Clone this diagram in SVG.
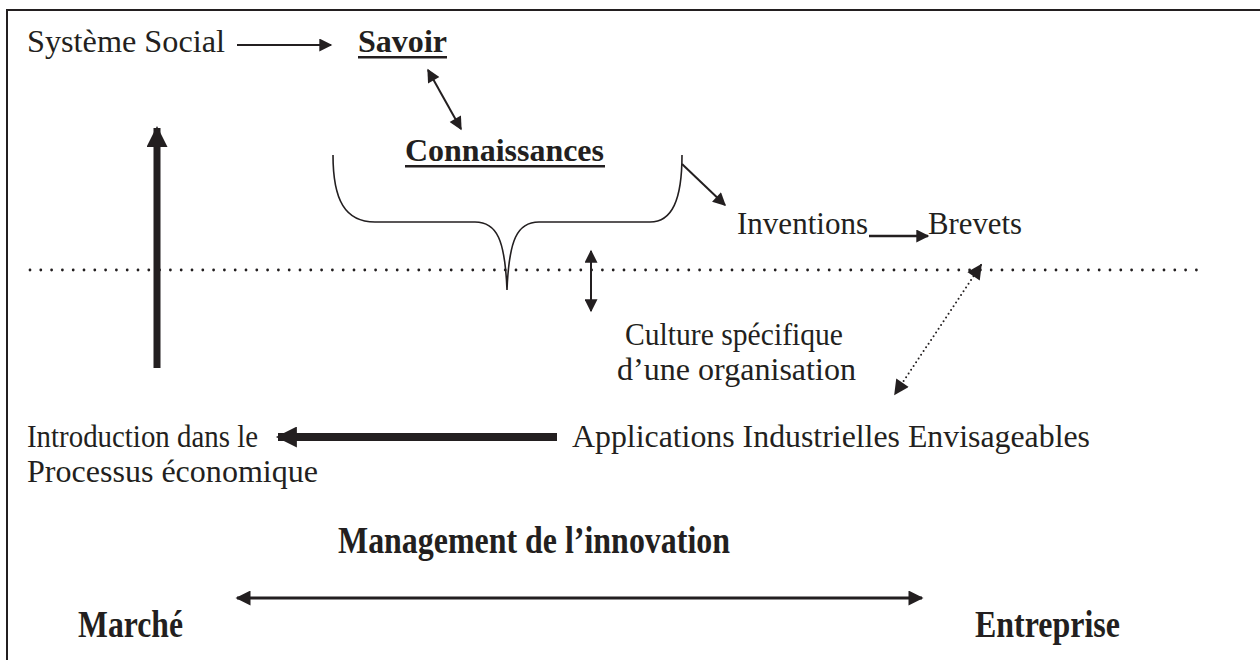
<svg xmlns="http://www.w3.org/2000/svg" width="1260" height="660" viewBox="0 0 1260 660">
<defs>
<style>
.t{font-family:"Liberation Serif","Times New Roman",serif;font-size:32px;fill:#231f20}
.b{font-weight:bold}
.ln{stroke:#231f20;fill:none}
</style>
<marker id="ah" viewBox="0 0 10 10" refX="9" refY="5" markerWidth="16" markerHeight="13" markerUnits="userSpaceOnUse" orient="auto-start-reverse">
<path d="M0,0 L10,5 L0,10 Z" fill="#231f20"/>
</marker>
<marker id="ahB" viewBox="0 0 10 10" refX="9" refY="5" markerWidth="24" markerHeight="21" markerUnits="userSpaceOnUse" orient="auto-start-reverse">
<path d="M0,0 L10,5 L0,10 Z" fill="#231f20"/>
</marker>
<marker id="ahM" viewBox="0 0 10 10" refX="9" refY="5" markerWidth="17" markerHeight="15" markerUnits="userSpaceOnUse" orient="auto-start-reverse">
<path d="M0,0 L10,5 L0,10 Z" fill="#231f20"/>
</marker>
</defs>
<rect width="1260" height="660" fill="#fff"/>
<path class="ln" d="M7,660 L7,10 L1260,10" stroke-width="2"/>

<g id="systeme"><text class="t" x="27" y="52" textLength="198" lengthAdjust="spacingAndGlyphs">Système Social</text></g>
<g id="savoir"><text class="t b" x="358" y="52" textLength="89" lengthAdjust="spacingAndGlyphs">Savoir</text><rect x="358" y="56" width="89" height="2.5" fill="#231f20"/></g>
<g id="connaissances"><text class="t b" x="405" y="161" textLength="199" lengthAdjust="spacingAndGlyphs">Connaissances</text><rect x="405" y="165" width="200" height="2.5" fill="#231f20"/></g>
<g id="brace"><path class="ln" stroke-width="1.6" d="M333,155 C333,200 345,222 375,222 L475,222 C497,222 505,240 507,290 C509,240 517,222 539,222 L650,222 C672,222 682,200 682,155"/></g>
<g id="inventions"><text class="t" x="737" y="234" textLength="131" lengthAdjust="spacingAndGlyphs">Inventions</text></g>
<g id="brevets"><text class="t" x="928" y="234" textLength="94" lengthAdjust="spacingAndGlyphs">Brevets</text></g>
<g id="dotted"><line class="ln" x1="30" y1="270" x2="1200" y2="270" stroke-width="2.8" stroke-dasharray="0 10.8" stroke-linecap="round"/></g>
<g id="culture"><text class="t" x="625" y="345" textLength="218" lengthAdjust="spacingAndGlyphs">Culture spécifique</text><text class="t" x="617" y="380" textLength="239" lengthAdjust="spacingAndGlyphs">d’une organisation</text></g>
<g id="introduction"><text class="t" x="27" y="447" textLength="231" lengthAdjust="spacingAndGlyphs">Introduction dans le</text><text class="t" x="27" y="482" textLength="291" lengthAdjust="spacingAndGlyphs">Processus économique</text></g>
<g id="applications"><text class="t" x="572" y="447" textLength="518" lengthAdjust="spacingAndGlyphs">Applications Industrielles Envisageables</text></g>
<g id="management"><text class="t b" transform="translate(338,553) scale(1,1.2)" textLength="392" lengthAdjust="spacingAndGlyphs">Management de l’innovation</text></g>
<g id="marche"><text class="t b" transform="translate(78,637) scale(1,1.2)" textLength="105" lengthAdjust="spacingAndGlyphs">Marché</text></g>
<g id="entreprise"><text class="t b" transform="translate(975,637) scale(1,1.2)" textLength="145" lengthAdjust="spacingAndGlyphs">Entreprise</text></g>

<g id="connectors">
<line class="ln" x1="237" y1="45" x2="331" y2="45" stroke-width="2" marker-end="url(#ah)"/>
<line class="ln" x1="428" y1="70" x2="461" y2="129" stroke-width="2" marker-start="url(#ah)" marker-end="url(#ah)"/>
<line class="ln" x1="157" y1="368" x2="157" y2="128" stroke-width="7" marker-end="url(#ahB)"/>
<line class="ln" x1="682" y1="164" x2="725" y2="205" stroke-width="2" marker-end="url(#ah)"/>
<line class="ln" x1="869" y1="236" x2="928" y2="236" stroke-width="2.5" marker-end="url(#ah)"/>
<line class="ln" x1="591" y1="251" x2="591" y2="311" stroke-width="2" marker-start="url(#ah)" marker-end="url(#ah)"/>
<line class="ln" x1="981" y1="265" x2="895" y2="394" stroke-width="2" stroke-dasharray="0 4.5" stroke-linecap="round" marker-start="url(#ahM)" marker-end="url(#ahM)"/>
<line class="ln" x1="557" y1="437" x2="278" y2="437" stroke-width="8" marker-end="url(#ahB)"/>
<line class="ln" x1="237" y1="598" x2="922" y2="598" stroke-width="3" marker-start="url(#ahM)" marker-end="url(#ahM)"/>
</g>
</svg>
